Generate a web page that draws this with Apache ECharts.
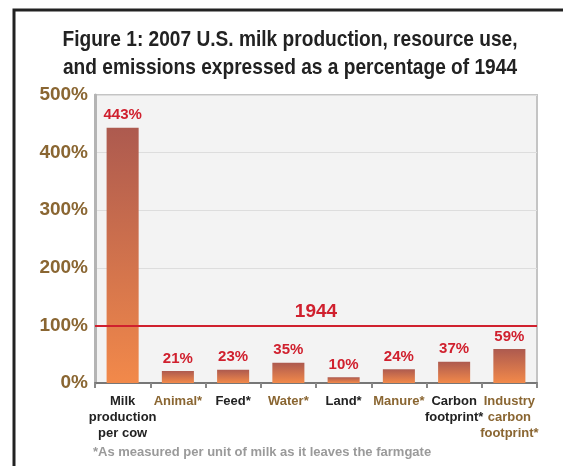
<!DOCTYPE html>
<html>
<head>
<meta charset="utf-8">
<script src="https://cdn.jsdelivr.net/npm/echarts@6/dist/echarts.min.js"></script>
<style>
html,body{margin:0;padding:0;background:#fff;}
#c{width:563px;height:466px;}
</style>
</head>
<body>
<div id="c"></div>
<script>
const categories = ['Milk\nproduction\nper cow', 'Animal*', 'Feed*', 'Water*', 'Land*', 'Manure*', 'Carbon\nfootprint*', 'Industry\ncarbon\nfootprint*'];
const values = [443, 21, 23, 35, 10, 24, 37, 59];
const labelColors = ['#222222', '#8a6632', '#222222', '#8a6632', '#222222', '#8a6632', '#222222', '#8a6632'];
const baselineValue = 100;
const baselineLabel = '1944';
const titleLines = ['Figure 1: 2007 U.S. milk production, resource use,', 'and emissions expressed as a percentage of 1944'];
const footnote = '*As measured per unit of milk as it leaves the farmgate';

const chart = echarts.init(document.getElementById('c'), null, {renderer: 'canvas'});
const sans = '"Liberation Sans", Arial, sans-serif';

// measure title width to squeeze it like a condensed face
const ctx = document.createElement('canvas').getContext('2d');
ctx.font = 'bold 22px "Liberation Sans"';
const w1 = ctx.measureText(titleLines[0]).width;
const titleScale = 455 / w1;

chart.setOption({
  animation: false,
  backgroundColor: '#ffffff',
  grid: {
    left: 95, right: 26, top: 95, bottom: 83,
    show: true,
    backgroundColor: '#f3f3f3',
    borderColor: '#c4c4c4',
    borderWidth: 2
  },
  xAxis: {
    type: 'category',
    data: categories,
    axisLine: {lineStyle: {color: '#777777', width: 2}},
    axisTick: {show: true, length: 5, lineStyle: {color: '#888888', width: 2}},
    axisLabel: {
      interval: 0,
      margin: 10,
      fontFamily: sans,
      fontWeight: 'bold',
      fontSize: 13,
      lineHeight: 16,
      color: function (v, i) { return labelColors[i]; }
    }
  },
  yAxis: {
    type: 'value',
    min: 0, max: 500, interval: 100,
    axisLine: {show: true, lineStyle: {color: '#b4b4b4', width: 3}},
    axisTick: {show: false},
    splitLine: {lineStyle: {color: '#dddddd', width: 1}},
    axisLabel: {
      formatter: '{value}%',
      margin: 7,
      fontFamily: sans,
      fontWeight: 'bold',
      fontSize: 19,
      color: '#8a6632'
    }
  },
  series: [{
    type: 'bar',
    data: values,
    barWidth: '58%',
    itemStyle: {
      color: new echarts.graphic.LinearGradient(0, 0, 0, 1, [
        {offset: 0, color: '#ad5a4f'},
        {offset: 1, color: '#f2894a'}
      ])
    },
    label: {
      show: true,
      position: 'top',
      distance: 5,
      formatter: '{c}%',
      fontFamily: sans,
      fontWeight: 'bold',
      fontSize: 15,
      color: '#d0202e'
    },
    markLine: {
      silent: true,
      symbol: 'none',
      lineStyle: {color: '#d0202e', width: 2, type: 'solid'},
      label: {
        show: true,
        position: 'middle',
        formatter: baselineLabel,
        fontFamily: sans,
        fontWeight: 'bold',
        fontSize: 19,
        color: '#d0202e',
        distance: 4
      },
      data: [{yAxis: baselineValue}]
    }
  }],
  graphic: [
    {type: 'rect', shape: {x: 14, y: 10, width: 620, height: 520}, style: {fill: 'none', stroke: '#222222', lineWidth: 3}, z: 100},
    {type: 'text', x: 290, y: 40, scaleX: titleScale, style: {x: 0, y: 0, text: titleLines[0], textAlign: 'center', textVerticalAlign: 'middle', fontFamily: sans, fontWeight: 'bold', fontSize: 22, fill: '#222222'}},
    {type: 'text', x: 290, y: 68, scaleX: titleScale, style: {x: 0, y: 0, text: titleLines[1], textAlign: 'center', textVerticalAlign: 'middle', fontFamily: sans, fontWeight: 'bold', fontSize: 22, fill: '#222222'}},
    {type: 'text', left: 93, top: 446, style: {text: footnote, fontFamily: sans, fontWeight: 'bold', fontSize: 13, fill: '#9a9a9a'}}
  ]
});
</script>
</body>
</html>
